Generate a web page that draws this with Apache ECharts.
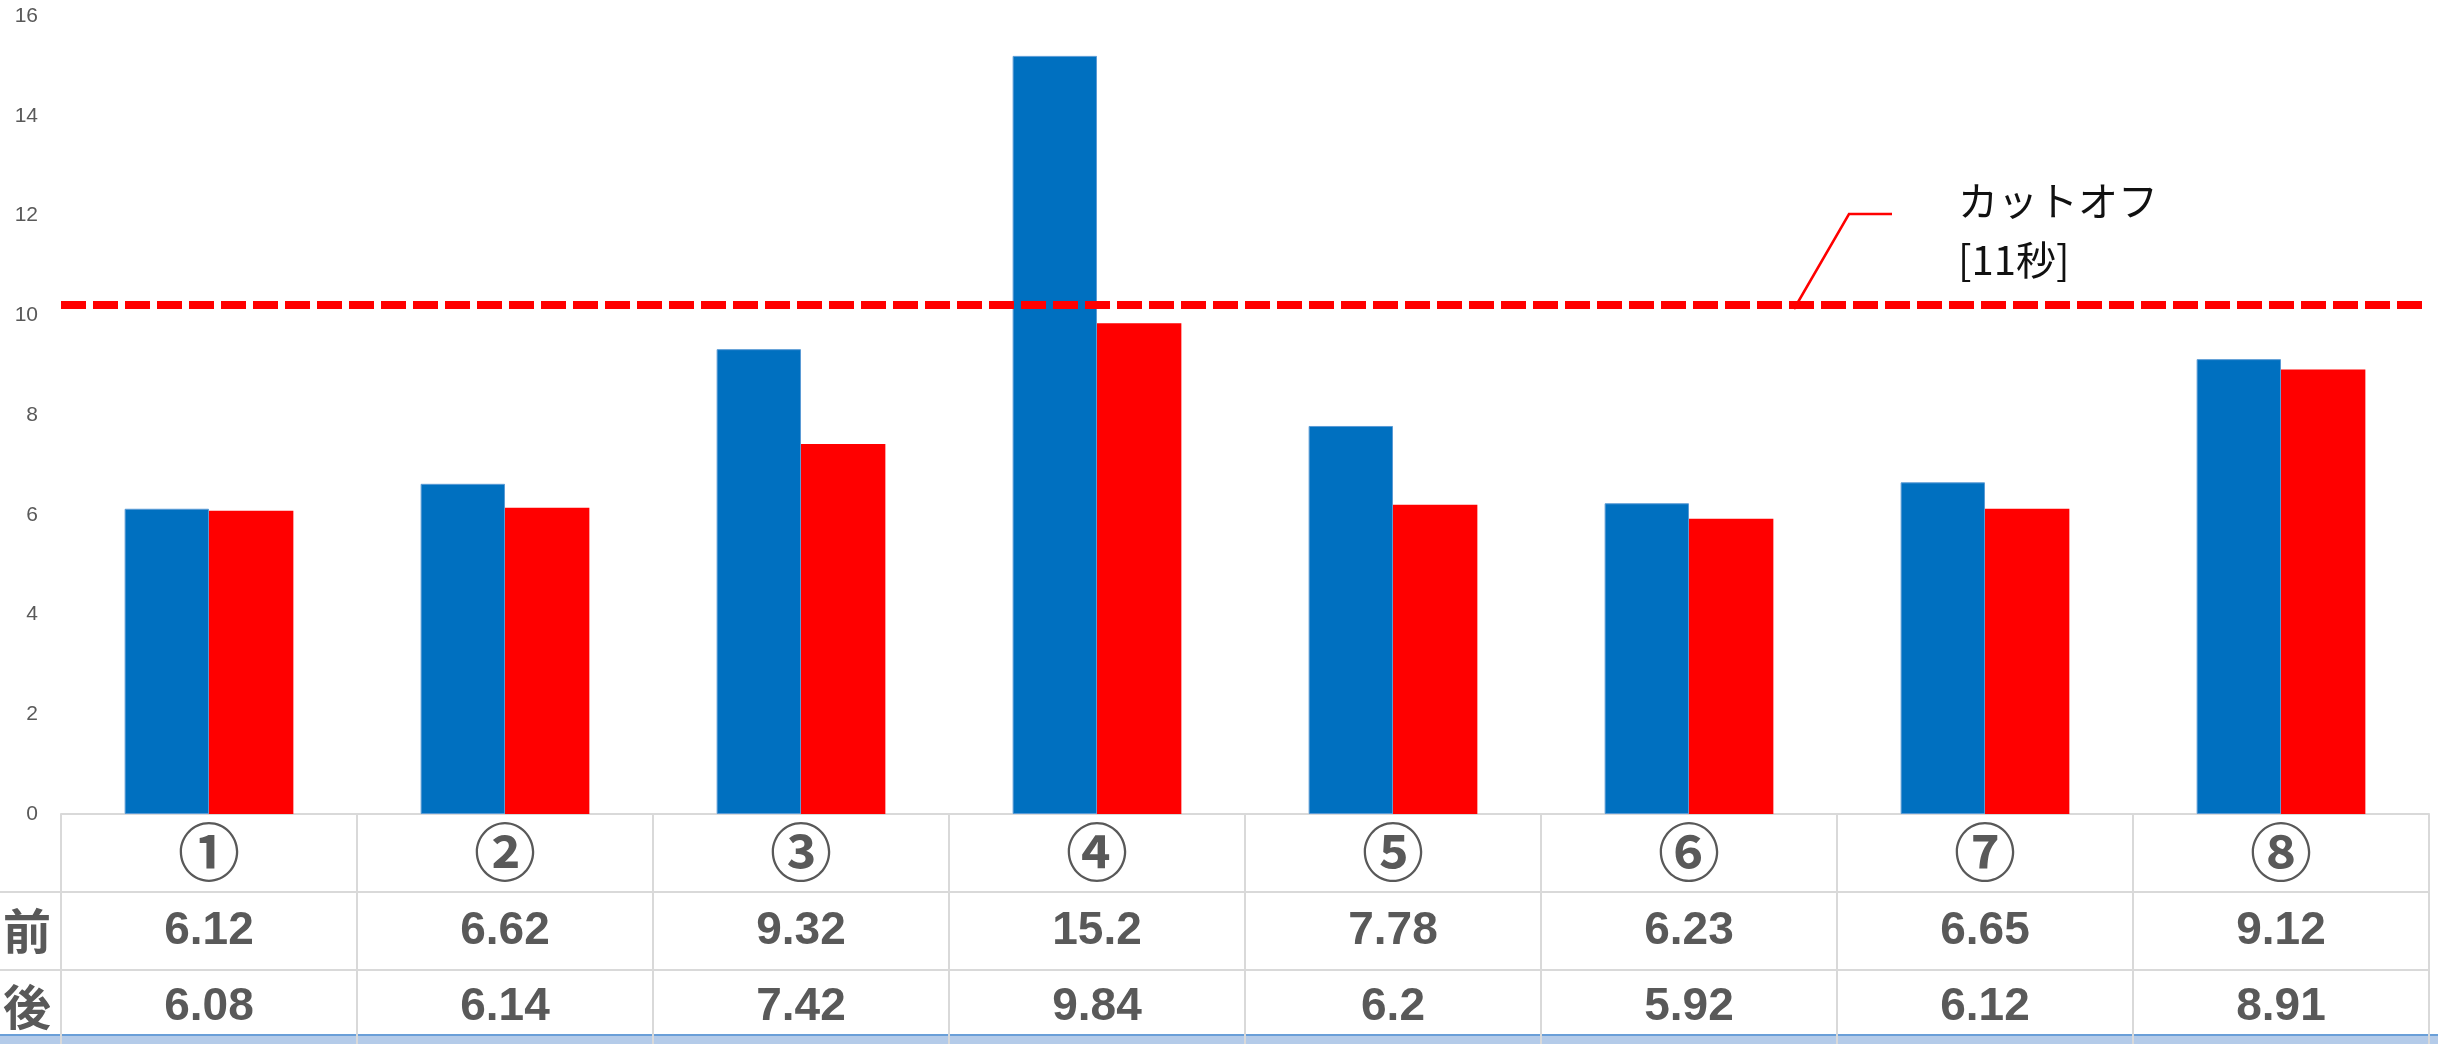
<!DOCTYPE html>
<html>
<head>
<meta charset="utf-8">
<script src="https://cdn.jsdelivr.net/npm/echarts@6/dist/echarts.min.js"></script>
<style>
  html, body { margin: 0; padding: 0; background: #fff; }
  #chart { width: 2438px; height: 1044px; }
</style>
</head>
<body>
<div id="chart"></div>
<script>
// カテゴリ（表の1行目）
const categories = ['①', '②', '③', '④', '⑤', '⑥', '⑦', '⑧']
// 前 / 後 の値
const beforeValues = [6.12, 6.62, 9.32, 15.2, 7.78, 6.23, 6.65, 9.12]
const afterValues = [6.08, 6.14, 7.42, 9.84, 6.2, 5.92, 6.12, 8.91]
const rowLabels = ['前', '後']
// y軸の目盛り
const yMin = 0
const yMax = 16
const yStep = 2
// カットオフ線（図上の位置）
const cutoffValue = 10.22
const cutoffText = 'カットオフ\n[11秒]'

// レイアウト
const gridLeft = 61
const gridRight = 9
const gridTop = 16
const gridBottom = 230
const rowH = 78
const H = 1044
const W = 2438
const axisY = H - gridBottom

const gray = '#d9d9d9'
const textGray = '#595959'
const numFont = '"Liberation Sans", Arial, sans-serif'
const jpFont = '"Noto Sans CJK JP", sans-serif'

const chart = echarts.init(document.getElementById('chart'))

// 表の行を x軸で作る
function tableAxis(data, offset, margin, font, size) {
  return {
    type: 'category',
    position: 'bottom',
    offset: offset,
    data: data,
    axisLine: { show: true, lineStyle: { color: gray, width: 2 } },
    axisTick: { show: false },
    axisLabel: {
      interval: 0,
      margin: margin,
      verticalAlign: 'middle',
      color: textGray,
      fontFamily: font,
      fontWeight: 'bold',
      fontSize: size,
    },
  }
}

const option = {
  backgroundColor: '#fff',
  animation: false,
  grid: { left: gridLeft, right: gridRight, top: gridTop, bottom: gridBottom },
  xAxis: [
    {
      type: 'category',
      data: categories,
      axisLine: { show: true, lineStyle: { color: gray, width: 2 } },
      // 縦の区切り線
      axisTick: { show: true, length: gridBottom, lineStyle: { color: gray, width: 2 } },
      axisLabel: {
        interval: 0,
        margin: 38,
        verticalAlign: 'middle',
        color: textGray,
        fontFamily: jpFont,
        fontWeight: 'bold',
        fontSize: 62,
      },
    },
    tableAxis(beforeValues.map(String), rowH, 39, numFont, 46),
    tableAxis(afterValues.map(String), rowH * 2, 37, numFont, 46),
  ],
  yAxis: {
    type: 'value',
    min: yMin,
    max: yMax,
    interval: yStep,
    axisLine: { show: false },
    axisTick: { show: false },
    splitLine: { show: false },
    axisLabel: { color: textGray, fontSize: 21, margin: 23, fontFamily: numFont },
  },
  series: [
    {
      name: '前',
      type: 'bar',
      data: beforeValues,
      barGap: 0,
      barCategoryGap: '43%',
      itemStyle: { color: '#0070C0', borderColor: '#5b9bd5', borderWidth: 1 },
      markLine: {
        silent: true,
        symbol: 'none',
        label: { show: false },
        lineStyle: { color: '#ff0000', width: 8, type: [25, 7] },
        data: [{ yAxis: cutoffValue }],
      },
    },
    {
      name: '後',
      type: 'bar',
      data: afterValues,
      itemStyle: { color: '#ff0000' },
    },
  ],
  graphic: [
    // 下の青い帯
    { type: 'rect', z: -1, shape: { x: 0, y: axisY + 221, width: W, height: H - axisY - 221 }, style: { fill: '#b4cbe9' } },
    { type: 'line', shape: { x1: 0, y1: axisY + 221, x2: W, y2: axisY + 221 }, style: { stroke: '#6a9fd8', lineWidth: 2 } },
    // 左端の行線
    { type: 'line', shape: { x1: 0, y1: axisY + rowH, x2: gridLeft, y2: axisY + rowH }, style: { stroke: gray, lineWidth: 2 } },
    { type: 'line', shape: { x1: 0, y1: axisY + rowH * 2, x2: gridLeft, y2: axisY + rowH * 2 }, style: { stroke: gray, lineWidth: 2 } },
    // 前 / 後
    {
      type: 'text', x: 27, y: axisY + rowH + 39,
      style: { text: rowLabels[0], fill: textGray, font: 'bold 48px ' + jpFont, align: 'center', verticalAlign: 'middle' },
    },
    {
      type: 'text', x: 27, y: axisY + rowH * 2 + 37,
      style: { text: rowLabels[1], fill: textGray, font: 'bold 48px ' + jpFont, align: 'center', verticalAlign: 'middle' },
    },
    // カットオフの引き出し線
    {
      type: 'polyline',
      shape: { points: [[1794, 309], [1849, 214], [1892, 214]] },
      style: { stroke: '#ff0000', lineWidth: 2.5, fill: null },
    },
    {
      type: 'text', x: 1958, y: 171,
      style: { text: cutoffText, fill: '#111', font: '40px ' + jpFont, lineHeight: 59 },
    },
  ],
}

chart.setOption(option)
</script>
</body>
</html>
